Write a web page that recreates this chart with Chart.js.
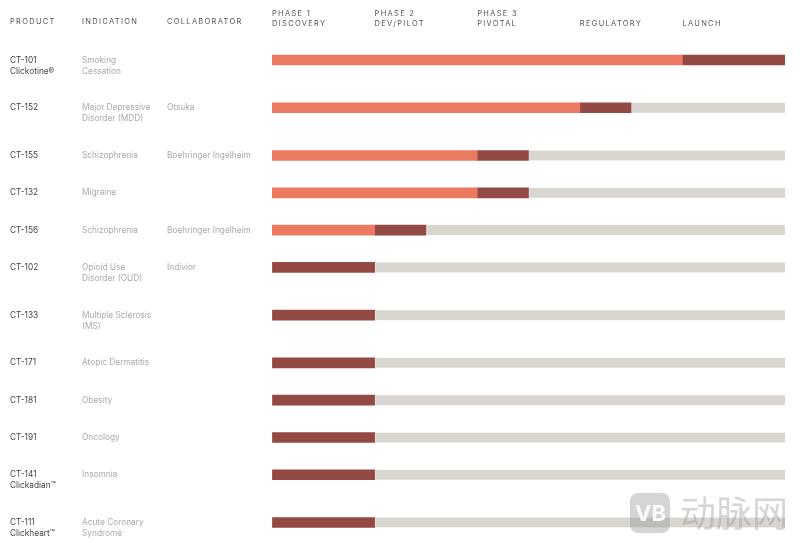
<!DOCTYPE html>
<html>
<head>
<meta charset="utf-8">
<script src="https://cdn.jsdelivr.net/npm/chart.js@4"></script>
<style>
  html, body { margin: 0; padding: 0; background: #fff; }
  canvas { display: block; }
</style>
</head>
<body>
<canvas id="myChart" width="800" height="543"></canvas>
<script>
const products = [
  ['CT-101', 'Clickotine®'],
  ['CT-152'],
  ['CT-155'],
  ['CT-132'],
  ['CT-156'],
  ['CT-102'],
  ['CT-133'],
  ['CT-171'],
  ['CT-181'],
  ['CT-191'],
  ['CT-141', 'Clickadian™'],
  ['CT-111', 'Clickheart™']
];
const indications = [
  ['Smoking', 'Cessation'],
  ['Major Depressive', 'Disorder (MDD)'],
  ['Schizophrenia'],
  ['Migraine'],
  ['Schizophrenia'],
  ['Opioid Use', 'Disorder (OUD)'],
  ['Multiple Sclerosis', '(MS)'],
  ['Atopic Dermatitis'],
  ['Obesity'],
  ['Oncology'],
  ['Insomnia'],
  ['Acute Coronary', 'Syndrome']
];
const collaborators = ['', 'Otsuka', 'Boehringer Ingelheim', '', 'Boehringer Ingelheim', 'Indivior', '', '', '', '', '', ''];
const phaseLabels = [['PHASE 1', 'DISCOVERY'], ['PHASE 2', 'DEV/PILOT'], ['PHASE 3', 'PIVOTAL'], ['REGULATORY'], ['LAUNCH']];
const columnHeaders = ['PRODUCT', 'INDICATION', 'COLLABORATOR'];

const completed = [4, 3, 2, 2, 1, 0, 0, 0, 0, 0, 0, 0];
const current = [1, 0.5, 0.5, 0.5, 0.5, 1, 1, 1, 1, 1, 1, 1];
const remaining = [0, 1.5, 2.5, 2.5, 3.5, 4, 4, 4, 4, 4, 4, 4];

// rows with two lines of text are taller, like in a table
const rowPos = [];
let pos = 0;
products.forEach((p, i) => {
  rowPos.push(pos);
  pos += Math.max(p.length, indications[i].length) > 1 ? 1.28 : 1;
});

const toPoints = (values) => values.map((v, i) => ({ x: v, y: rowPos[i] }));

const textFont = 'Inter, sans-serif';

const tablePlugin = {
  id: 'tableText',
  beforeDraw(chart) {
    chart.ctx.letterSpacing = '1.3px';
  },
  afterDraw(chart) {
    const ctx = chart.ctx;
    const y = chart.scales.y;
    ctx.save();
    ctx.textBaseline = 'middle';
    ctx.textAlign = 'left';

    ctx.letterSpacing = '1.3px';
    ctx.font = '7.5px ' + textFont;
    ctx.fillStyle = '#555';
    [10, 82, 167].forEach((x, i) => ctx.fillText(columnHeaders[i], x, 22));

    ctx.letterSpacing = '0px';
    ctx.font = '8.3px ' + textFont;
    rowPos.forEach((r, i) => {
      const py = y.getPixelForValue(r);
      ctx.fillStyle = '#444';
      products[i].forEach((t, n) => ctx.fillText(t, 10, py + n * 11));
      ctx.fillStyle = '#aaa';
      indications[i].forEach((t, n) => ctx.fillText(t, 82, py + n * 11));
      ctx.fillText(collaborators[i], 167, py);
    });

    // watermark
    ctx.fillStyle = 'rgba(150,150,150,0.4)';
    ctx.beginPath();
    ctx.roundRect(630, 493, 40, 40, 8);
    ctx.fill();
    ctx.fillStyle = 'rgba(255,255,255,0.9)';
    ctx.font = 'bold 22px ' + textFont;
    ctx.fillText('VB', 635, 514);
    ctx.fillStyle = 'rgba(150,150,150,0.4)';
    ctx.font = '36px "Noto Sans CJK SC"';
    ctx.fillText('动脉网', 680, 513);
    ctx.restore();
  }
};

const config = {
  type: 'bar',
  data: {
    datasets: [
      { data: toPoints(completed), backgroundColor: '#EC7A62' },
      { data: toPoints(current), backgroundColor: '#944A44' },
      { data: toPoints(remaining), backgroundColor: '#D9D5D0', borderColor: '#fff', borderWidth: { left: 1 }, borderSkipped: false }
    ]
  },
  options: {
    indexAxis: 'y',
    responsive: false,
    animation: false,
    barThickness: 10,
    layout: { padding: { left: 272, right: 15 } },
    plugins: { legend: { display: false }, tooltip: { enabled: false } },
    scales: {
      x: {
        position: 'top',
        stacked: true,
        min: 0,
        max: 5,
        afterFit: (scale) => { scale.height = 44; },
        grid: { display: false },
        border: { display: false },
        afterBuildTicks: (scale) => { scale.ticks = phaseLabels.map((l, i) => ({ value: i })); },
        ticks: {
          autoSkip: false,
          maxRotation: 0,
          minRotation: 0,
          align: 'start',
          padding: 7,
          color: '#555',
          font: { family: textFont, size: 7.5, lineHeight: 1.4 },
          callback: (v) => phaseLabels[v]
        }
      },
      y: {
        type: 'linear',
        display: false,
        offset: false,
        stacked: true,
        reverse: true,
        min: -0.43,
        max: 12.95
      }
    }
  },
  plugins: [tablePlugin]
};

const myChart = new Chart(document.getElementById('myChart'), config);
</script>
</body>
</html>
